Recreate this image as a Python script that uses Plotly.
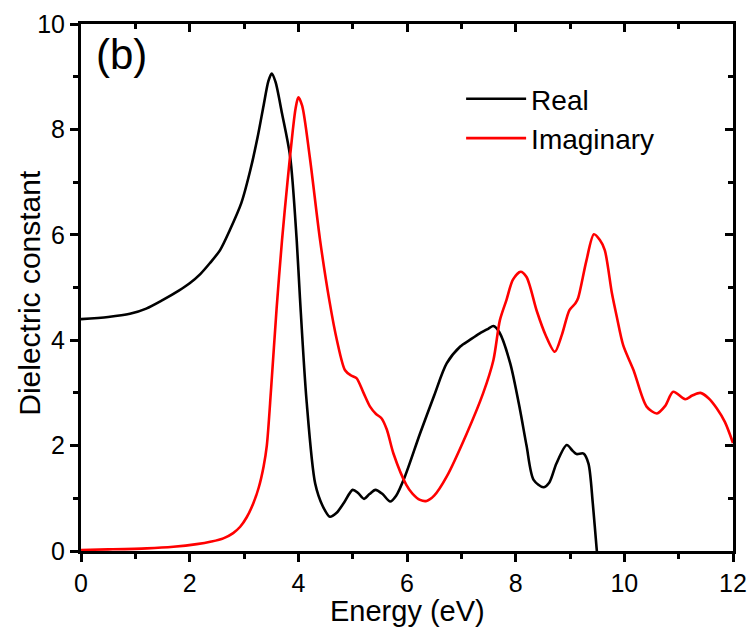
import plotly.graph_objects as go

# Real part
real_x = [0, 0.5, 0.9, 1.2, 1.5, 1.8, 2.0, 2.2, 2.37, 2.56, 2.74, 2.95, 3.11, 3.25, 3.36, 3.45, 3.51,
          3.58, 3.7, 3.85, 3.97, 4.03, 4.15, 4.31, 4.45, 4.58, 4.7, 4.83, 5.0, 5.1, 5.21, 5.31, 5.42,
          5.55, 5.69, 5.8, 5.96, 6.24, 6.5, 6.73, 6.98, 7.15, 7.34, 7.5, 7.59, 7.7, 7.9, 8.08, 8.2,
          8.33, 8.51, 8.62, 8.75, 8.94, 9.05, 9.12, 9.25, 9.34, 9.42, 9.49, 9.55]
real_y = [4.40, 4.44, 4.50, 4.6, 4.76, 4.94, 5.08, 5.26, 5.46, 5.71, 6.09, 6.6, 7.2, 7.85, 8.45, 8.92, 9.06,
          8.9, 8.3, 7.48, 5.9, 4.8, 2.87, 1.28, 0.85, 0.65, 0.72, 0.90, 1.16, 1.10, 0.99, 1.08, 1.16,
          1.08, 0.94, 1.05, 1.41, 2.23, 2.95, 3.56, 3.88, 4.0, 4.13, 4.22, 4.27, 4.15, 3.56, 2.68, 2.0,
          1.35, 1.21, 1.3, 1.66, 2.01, 1.9, 1.84, 1.85, 1.66, 0.9, 0.05, -0.6]

# Imaginary part
imag_x = [0, 0.5, 1.21, 1.7, 2.13, 2.4, 2.62, 2.8, 2.93, 3.05, 3.17, 3.27, 3.36, 3.42, 3.5, 3.6,
          3.7, 3.8, 3.9, 3.95, 4.0, 4.07, 4.21, 4.4, 4.57, 4.71, 4.86, 4.97, 5.07, 5.2, 5.32,
          5.43, 5.53, 5.63, 5.75, 5.99, 6.1, 6.24, 6.36, 6.5, 6.73, 7.1, 7.4, 7.59, 7.71, 7.83,
          7.95, 8.09, 8.2, 8.39, 8.55, 8.72, 8.85, 8.99, 9.1, 9.15, 9.3, 9.44, 9.55, 9.64, 9.77,
          9.86, 9.98, 10.17, 10.41, 10.6, 10.75, 10.9, 11.12, 11.25, 11.4, 11.55, 11.7, 11.85, 12.0]
imag_y = [0.02, 0.03, 0.05, 0.08, 0.13, 0.18, 0.24, 0.34, 0.46, 0.64, 0.90, 1.2, 1.60, 2.0, 3.1, 4.6,
          5.9, 7.0, 8.0, 8.4, 8.61, 8.45, 7.48, 5.9, 4.76, 4.0, 3.43, 3.33, 3.28, 3.0, 2.74,
          2.6, 2.52, 2.3, 1.85, 1.25, 1.09, 0.97, 0.95, 1.05, 1.41, 2.23, 2.99, 3.62, 4.38, 4.76,
          5.15, 5.30, 5.2, 4.55, 4.1, 3.78, 4.1, 4.57, 4.7, 4.8, 5.5, 6.01, 5.9, 5.71, 4.9,
          4.45, 3.9, 3.43, 2.74, 2.61, 2.75, 3.02, 2.88, 2.95, 3.0, 2.9, 2.71, 2.45, 2.05]

x_range = [0, 12]
y_range = [0, 10]
FONT = "Liberation Sans, Arial, sans-serif"

fig = go.Figure()
fig.add_trace(go.Scatter(x=real_x, y=real_y, mode="lines", name="Real",
                         line=dict(color="black", width=2.6, shape="spline", smoothing=0.8)))
fig.add_trace(go.Scatter(x=imag_x, y=imag_y, mode="lines", name="Imaginary",
                         line=dict(color="#ff0000", width=2.6, shape="spline", smoothing=0.8)))

axis_common = dict(showline=True, linewidth=3, linecolor="black", showgrid=False,
                   zeroline=False, tickcolor="black", tickwidth=2.5, automargin=False)
minor_out = dict(dtick=1, ticks="outside", ticklen=5, tickwidth=2.5, tickcolor="black")
minor_in = dict(dtick=1, ticks="inside", ticklen=5, tickwidth=2.5, tickcolor="black")

fig.update_layout(
    width=749, height=630,
    margin=dict(l=81, r=16, t=24, b=79),
    paper_bgcolor="white", plot_bgcolor="white",
    font=dict(family=FONT, color="black"),
    xaxis=dict(range=x_range, dtick=2, ticks="outside", ticklen=8, minor=minor_out,
               tickfont=dict(size=25), **axis_common),
    yaxis=dict(range=y_range, dtick=2, ticks="outside", ticklen=8, minor=minor_out,
               tickfont=dict(size=25), **axis_common),
    xaxis2=dict(range=x_range, overlaying="x", side="top", anchor="y", dtick=2, ticks="inside",
                ticklen=8, showticklabels=False, minor=minor_in, **axis_common),
    yaxis2=dict(range=y_range, overlaying="y", side="right", anchor="x", dtick=2, ticks="inside",
                ticklen=8, showticklabels=False, minor=minor_in, **axis_common),
    legend=dict(x=0.583, y=0.905, xanchor="left", yanchor="top", bgcolor="rgba(0,0,0,0)",
                font=dict(size=28), tracegroupgap=0, itemwidth=60),
    annotations=[
        dict(text="(b)", x=0.02, y=0.99, xref="paper", yref="paper",
             xanchor="left", yanchor="top", showarrow=False, font=dict(size=42)),
        dict(text="Energy (eV)", x=0.5, y=0, xref="paper", yref="paper",
             xanchor="center", yanchor="top", yshift=-42, showarrow=False, font=dict(size=29)),
        dict(text="Dielectric constant", x=0, y=0.49, xref="paper", yref="paper",
             xanchor="center", yanchor="middle", xshift=-51, textangle=-90,
             showarrow=False, font=dict(size=30)),
    ],
)

# dummy trace so the mirrored axes render
fig.add_trace(go.Scatter(x=[None], y=[None], xaxis="x2", yaxis="y2", showlegend=False))

fig.write_html("out.html")
